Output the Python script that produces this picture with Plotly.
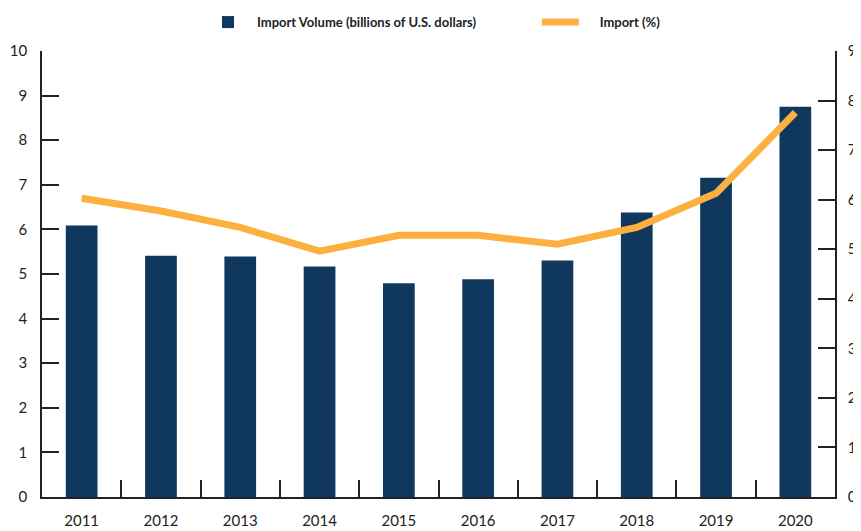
import plotly.graph_objects as go

years = ["2011", "2012", "2013", "2014", "2015", "2016", "2017", "2018", "2019", "2020"]
import_volume = [6.09, 5.41, 5.39, 5.17, 4.79, 4.88, 5.30, 6.38, 7.16, 8.75]
import_pct = [6.03, 5.77, 5.44, 4.96, 5.28, 5.28, 5.10, 5.44, 6.13, 7.76]

NAVY = "#10385f"
ORANGE = "#fbb040"
INK = "#222222"
FONT = "Lato"

fig = go.Figure()
fig.add_trace(go.Bar(x=years, y=import_volume, name="Import Volume (billions of U.S. dollars)",
                     marker=dict(color=NAVY, line=dict(width=0)), width=0.4, legend="legend"))
fig.add_trace(go.Scatter(x=years, y=import_pct, name="\u00a0\u00a0\u00a0\u00a0\u00a0Import (%)", mode="lines",
                         line=dict(color=ORANGE, width=7), yaxis="y2", legend="legend2"))

axis_style = dict(showline=True, linecolor=INK, linewidth=1.5, ticks="inside", ticklen=17,
                  tickwidth=1.5, tickcolor=INK, showgrid=False, zeroline=False, automargin=False,
                  ticklabeloverflow="allow", tickfont=dict(family=FONT, size=15, color=INK))

legend_style = dict(orientation="h", xanchor="left", yref="container", y=0.973, yanchor="middle",
                    font=dict(family=FONT, size=13, color=INK, weight="bold"),
                    bgcolor="rgba(0,0,0,0)")

# page body adds an 8px margin, so the figure is 8px smaller than the window
fig.update_layout(
    width=853, height=523,
    margin=dict(l=34, r=26, t=43, b=34, autoexpand=False),
    paper_bgcolor="white", plot_bgcolor="white",
    font=dict(family=FONT, color=INK),
    xaxis=dict(type="category", range=[-0.5, 9.5], tickson="boundaries", ticklabelstandoff=9, **axis_style),
    yaxis=dict(range=[0, 10], dtick=1, ticklabelstandoff=10, **axis_style),
    yaxis2=dict(range=[0, 9], dtick=1, overlaying="y", side="right", ticklabelstandoff=8, **axis_style),
    legend=dict(x=0.198, itemwidth=48, **legend_style),
    legend2=dict(x=0.624, itemwidth=37, **legend_style),
    showlegend=True,
)

fig.write_html("out.html")
